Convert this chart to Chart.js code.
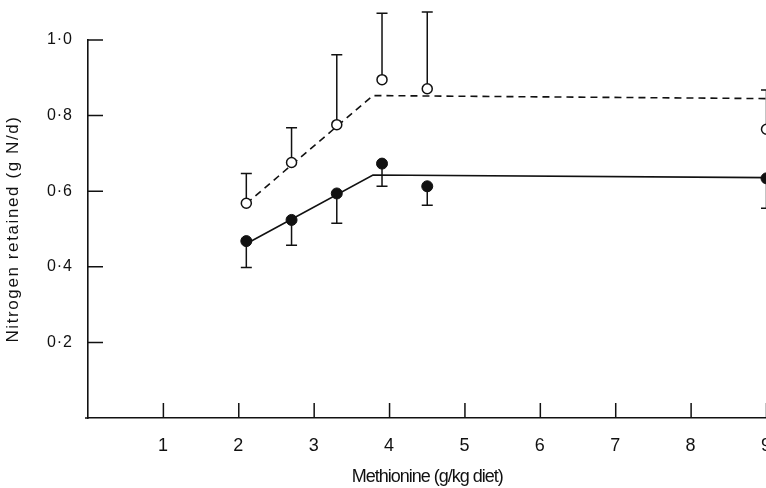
<!DOCTYPE html>
<html>
<head>
<meta charset="utf-8">
<script src="https://cdn.jsdelivr.net/npm/chart.js@4.4.0/dist/chart.umd.min.js"></script>
<style>
html,body{margin:0;padding:0;background:#fff;overflow:hidden;}
#wrap{width:766px;height:488px;overflow:hidden;}
</style>
</head>
<body>
<div id="wrap"><canvas id="c" width="773" height="488" style="width:773px;height:488px"></canvas></div>
<script>
// ---- data ----
const methionine   = [2.1, 2.7, 3.3, 3.9, 4.5, 9.0];
const openMeans    = [0.568, 0.676, 0.776, 0.895, 0.871, 0.764];
const openSE       = [0.079, 0.092, 0.185, 0.176, 0.203, 0.104];
const filledMeans  = [0.468, 0.524, 0.594, 0.673, 0.613, 0.634];
const filledSE     = [0.070, 0.067, 0.079, 0.060, 0.050, 0.079];
const dashedFitX   = [2.1, 3.78, 9.0];
const dashedFitY   = [0.567, 0.853, 0.845];
const solidFitX    = [2.1, 3.78, 9.0];
const solidFitY    = [0.461, 0.643, 0.636];
const xTickValues  = [1, 2, 3, 4, 5, 6, 7, 8, 9];
const xTickLabels  = ['1', '2', '3', '4', '5', '6', '7', '8', '9'];
const yTickValues  = [0.2, 0.4, 0.6, 0.8, 1.0];
const yTickLabels  = ['0·2', '0·4', '0·6', '0·8', '1·0'];
const xTitle = 'Methionine (g/kg diet)';
const yTitle = 'Nitrogen retained (g N/d)';

const INK = '#111';

const toXY = (xs, ys) => xs.map((x, i) => ({x: x, y: ys[i]}));

// per-scale title letter spacing (wraps the scale's own title drawing)
function spacedTitle(s, spacing) {
  if (s.__spaced) return;
  s.__spaced = true;
  const orig = s.drawTitle;
  s.drawTitle = function () {
    const ctx = this.ctx;
    const prev = ctx.letterSpacing;
    try { ctx.letterSpacing = spacing; } catch (e) {}
    orig.apply(this, arguments);
    try { ctx.letterSpacing = prev; } catch (e) {}
  };
}

const letterSpacingPlugin = {
  id: 'letterSpacing',
  beforeDraw(chart) { try { chart.ctx.letterSpacing = '1px'; } catch (e) {} }
};

const errorBarPlugin = {
  id: 'errorBars',
  beforeDatasetsDraw(chart) {
    const ctx = chart.ctx, xs = chart.scales.x, ys = chart.scales.y;
    const cap = 5.5;
    ctx.save();
    ctx.strokeStyle = INK;
    ctx.lineWidth = 1.5;
    const draw = (means, se, dir) => {
      methionine.forEach((m, i) => {
        const px = xs.getPixelForValue(m);
        const y0 = ys.getPixelForValue(means[i]);
        const y1 = ys.getPixelForValue(means[i] + dir * se[i]);
        ctx.beginPath();
        ctx.moveTo(px, y0); ctx.lineTo(px, y1);
        ctx.moveTo(px - cap, y1); ctx.lineTo(px + cap, y1);
        ctx.stroke();
      });
    };
    draw(openMeans, openSE, 1);
    draw(filledMeans, filledSE, -1);
    ctx.restore();
  }
};

const inwardTicksPlugin = {
  id: 'inwardTicks',
  afterDraw(chart) {
    const ctx = chart.ctx, xs = chart.scales.x, ys = chart.scales.y;
    const len = 15;
    const area = chart.chartArea;
    ctx.save();
    ctx.strokeStyle = INK;
    ctx.lineWidth = 1.5;
    ctx.beginPath();
    yTickValues.forEach(v => {
      const py = ys.getPixelForValue(v);
      ctx.moveTo(area.left, py); ctx.lineTo(area.left + len, py);
    });
    xTickValues.forEach(v => {
      const px = xs.getPixelForValue(v);
      ctx.moveTo(px, area.bottom); ctx.lineTo(px, area.bottom - len);
    });
    ctx.moveTo(area.left - 3, area.bottom); ctx.lineTo(area.left, area.bottom);
    ctx.stroke();
    ctx.restore();
  }
};

new Chart(document.getElementById('c'), {
  type: 'scatter',
  data: {
    datasets: [
      {
        label: 'fit (open)',
        type: 'line',
        data: toXY(dashedFitX, dashedFitY),
        borderColor: INK,
        borderWidth: 1.6,
        borderDash: [7, 5],
        pointRadius: 0,
        fill: false,
        tension: 0,
        clip: false,
        order: 3
      },
      {
        label: 'fit (filled)',
        type: 'line',
        data: toXY(solidFitX, solidFitY),
        borderColor: INK,
        borderWidth: 1.6,
        pointRadius: 0,
        fill: false,
        tension: 0,
        clip: false,
        order: 4
      },
      {
        label: 'open',
        data: toXY(methionine, openMeans),
        pointStyle: 'circle',
        pointRadius: 5,
        pointBorderWidth: 1.5,
        pointBackgroundColor: '#fff',
        pointBorderColor: INK,
        clip: false,
        order: 1
      },
      {
        label: 'filled',
        data: toXY(methionine, filledMeans),
        pointStyle: 'circle',
        pointRadius: 5.5,
        pointBorderWidth: 1,
        pointBackgroundColor: INK,
        pointBorderColor: INK,
        clip: false,
        order: 2
      }
    ]
  },
  options: {
    responsive: false,
    animation: false,
    devicePixelRatio: 1,
    layout: {padding: {top: 40, left: 0, right: 0, bottom: 0}},
    plugins: {legend: {display: false}, tooltip: {enabled: false}},
    scales: {
      x: {
        type: 'linear',
        min: 0, max: 9,
        afterBuildTicks: s => { s.ticks = xTickValues.map(v => ({value: v})); },
        afterFit: s => { s.height = 70; s.paddingLeft = 0; s.paddingRight = 0; spacedTitle(s, '-1px'); },
        grid: {display: false, drawTicks: false},
        border: {display: true, color: INK, width: 1.6},
        ticks: {
          color: INK,
          padding: 17,
          maxRotation: 0,
          autoSkip: false,
          font: {family: 'Liberation Sans, Arial, sans-serif', size: 18},
          callback: (v, i) => xTickLabels[i]
        },
        title: {
          display: true,
          text: xTitle,
          color: INK,
          padding: {top: 0, bottom: 0},
          font: {family: 'Liberation Sans, Arial, sans-serif', size: 18}
        }
      },
      y: {
        type: 'linear',
        min: 0, max: 1.0,
        afterBuildTicks: s => { s.ticks = yTickValues.map(v => ({value: v})); },
        afterFit: s => { s.width = 88; s.paddingTop = 0; s.paddingBottom = 0; spacedTitle(s, '1.6px'); },
        grid: {display: false, drawTicks: false},
        border: {display: true, color: INK, width: 1.6},
        ticks: {
          color: INK,
          padding: 15,
          autoSkip: false,
          font: {family: 'Liberation Sans, Arial, sans-serif', size: 16},
          callback: (v, i) => yTickLabels[i]
        },
        title: {
          display: true,
          text: yTitle,
          color: INK,
          padding: {top: 3, bottom: 0},
          font: {family: 'Liberation Sans, Arial, sans-serif', size: 17}
        }
      }
    }
  },
  plugins: [letterSpacingPlugin, errorBarPlugin, inwardTicksPlugin]
});
</script>
</body>
</html>
